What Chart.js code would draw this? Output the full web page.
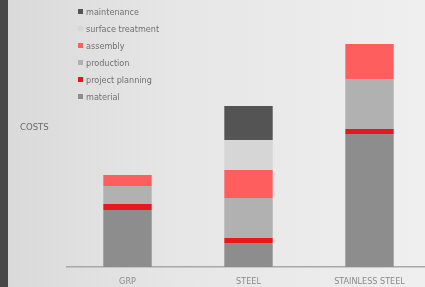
<!DOCTYPE html>
<html>
<head>
<meta charset="utf-8">
<script src="https://cdn.jsdelivr.net/npm/chart.js@4/dist/chart.umd.min.js"></script>
<style>
    html, body { margin: 0; padding: 0; }
    body {
        width: 425px;
        height: 287px;
        overflow: hidden;
        position: relative;
        background: linear-gradient(90deg, #d9d9d9 0%, #e6e6e6 40%, #efefef 100%);
        font-family: "DejaVu Sans Condensed", "DejaVu Sans", sans-serif;
        font-stretch: condensed;
    }
    .strip {
        position: absolute; left: 0; top: 0; width: 8px; height: 287px;
        background: #474747;
    }
    .chart-box {
        position: absolute; left: 0; top: 0; width: 440px; height: 287px;
    }
    .y-title {
        position: absolute; left: 20px; top: 121px;
        font-size: 9.5px; color: #6a6a6a;
    }
    #legend {
        position: absolute; left: 78px; top: 5px;
        font-size: 9px; color: #707070;
    }
    #legend .item { height: 17px; line-height: 14px; white-space: nowrap; }
    #legend .box {
        display: inline-block; width: 5px; height: 5px;
        margin-right: 3px; vertical-align: 1px;
    }
</style>
</head>
<body>
<div class="strip"></div>
<div class="chart-box"><canvas id="costChart" width="440" height="287"></canvas></div>
<div class="y-title">COSTS</div>
<div id="legend"></div>
<script>
// Chart data
const categories = ['GRP', 'STEEL', 'STAINLESS STEEL'];
const material = [57, 24, 133];
const projectPlanning = [6, 5, 5];
const production = [18, 40, 50];
const assembly = [11, 28, 35];
const surfaceTreatment = [0, 30, 0];
const maintenance = [0, 34, 0];

document.addEventListener('DOMContentLoaded', function() {
    const datasets = [
        { label: 'material', data: material, backgroundColor: '#8d8d8d' },
        { label: 'project planning', data: projectPlanning, backgroundColor: '#e8161e' },
        { label: 'production', data: production, backgroundColor: '#b1b1b1' },
        { label: 'assembly', data: assembly, backgroundColor: '#ff5e5e' },
        { label: 'surface treatment', data: surfaceTreatment, backgroundColor: '#d6d6d6' },
        { label: 'maintenance', data: maintenance, backgroundColor: '#545454' }
    ];

    // Legend, top entry is the top of the stack
    const legend = document.getElementById('legend');
    datasets.slice().reverse().forEach(ds => {
        const item = document.createElement('div');
        item.className = 'item';
        item.innerHTML = '<span class="box" style="background:' + ds.backgroundColor + '"></span>' + ds.label;
        legend.appendChild(item);
    });

    new Chart(document.getElementById('costChart'), {
        type: 'bar',
        data: {
            labels: categories,
            datasets: datasets.map(ds => Object.assign({
                barPercentage: 0.4,
                categoryPercentage: 1,
                borderWidth: 0
            }, ds))
        },
        options: {
            responsive: false,
            animation: false,
            layout: {
                padding: { left: 67, right: 10, top: 20, bottom: 0 }
            },
            plugins: {
                legend: { display: false },
                tooltip: { enabled: false }
            },
            scales: {
                x: {
                    stacked: true,
                    grid: { display: false, drawTicks: false },
                    border: { display: true, color: '#a8a8a8', width: 1.5 },
                    ticks: {
                        color: '#8a8a8a',
                        padding: 9,
                        font: { family: "'DejaVu Sans Condensed', 'DejaVu Sans', sans-serif", size: 9 }
                    },
                    afterFit: function(scale) { scale.height = 20; }
                },
                y: {
                    stacked: true,
                    display: false,
                    min: 0,
                    max: 247
                }
            }
        }
    });
});
</script>
</body>
</html>
